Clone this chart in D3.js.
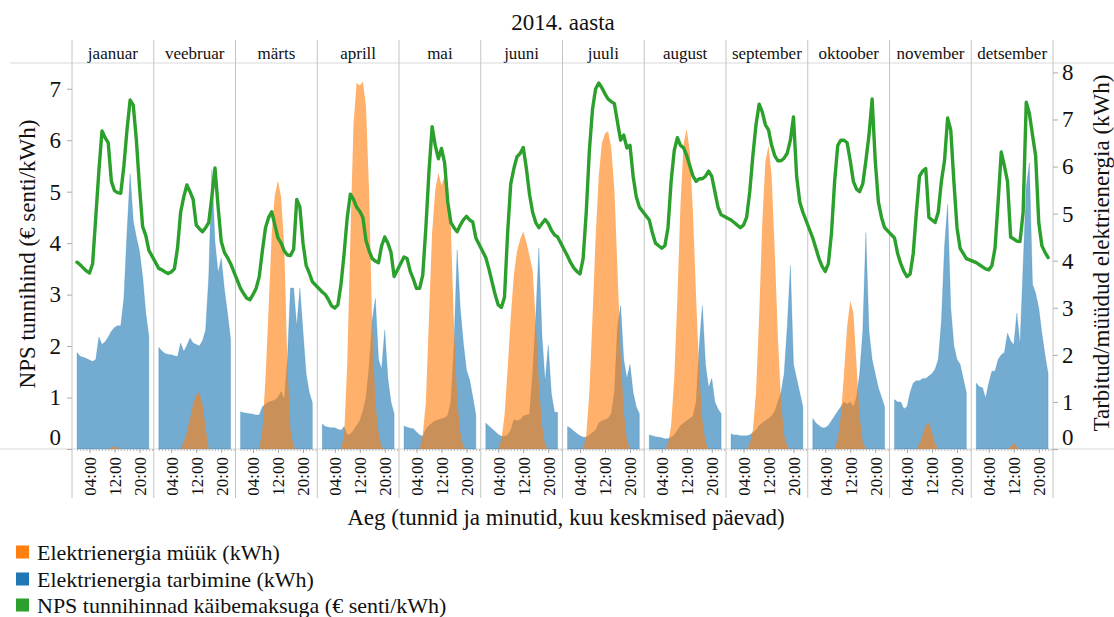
<!DOCTYPE html>
<html>
<head>
<meta charset="utf-8">
<script src="https://cdn.jsdelivr.net/npm/d3@7"></script>
<style>
  body { margin: 0; background: #fff; }
  svg { display: block; font-family: "Liberation Serif", "Times New Roman", serif; }
</style>
</head>
<body>
<svg id="chart" width="1114" height="617"></svg>
<script>
// kuud ja tunnid
var months = ["jaanuar", "veebruar", "märts", "aprill", "mai", "juuni",
              "juuli", "august", "september", "oktoober", "november", "detsember"];
var hourTicks = [4, 12, 20];
var priceTicks = [0, 1, 2, 3, 4, 5, 6, 7];
var kwhTicks = [0, 1, 2, 3, 4, 5, 6, 7, 8];

// NPS tunnihind (senti/kWh), 24 tundi kuu kohta
var price = [
  [3.63,3.58,3.52,3.46,3.42,3.6,4.5,5.4,6.18,6.05,5.95,5.2,5.02,4.98,4.97,5.5,6.2,6.78,6.68,6.0,5.1,4.32,4.15,3.86],
  [3.51,3.48,3.44,3.41,3.44,3.5,3.9,4.6,4.9,5.13,5.0,4.85,4.35,4.28,4.22,4.3,4.4,4.9,5.46,4.7,4.03,3.82,3.72,3.6],
  [3.12,3.02,2.93,2.9,3.0,3.12,3.35,3.85,4.3,4.5,4.61,4.35,4.1,4.0,3.85,3.77,3.76,3.88,4.85,4.7,4.0,3.57,3.42,3.25],
  [3.05,3.0,2.9,2.78,2.74,2.8,3.2,3.8,4.5,4.95,4.85,4.7,4.62,4.5,4.05,3.85,3.7,3.65,3.62,3.95,4.12,4.0,3.82,3.35],
  [3.73,3.7,3.45,3.3,3.12,3.12,3.38,4.3,5.4,6.26,5.9,5.64,5.84,5.56,4.8,4.4,4.3,4.22,4.35,4.45,4.52,4.45,4.41,4.1],
  [3.72,3.5,3.25,3.0,2.8,2.75,2.95,4.2,5.15,5.45,5.68,5.74,5.86,5.45,4.95,4.6,4.4,4.3,4.38,4.46,4.38,4.25,4.16,4.12],
  [3.75,3.62,3.52,3.45,3.4,3.7,4.6,5.8,6.6,7.0,7.11,7.02,6.9,6.8,6.75,6.71,6.35,6.0,6.1,5.85,5.9,5.3,4.9,4.7],
  [4.45,4.2,4.0,3.95,3.9,3.95,4.3,5.2,5.8,6.05,5.9,5.85,5.7,5.5,5.3,5.2,5.25,5.25,5.3,5.4,5.3,5.0,4.7,4.55],
  [4.45,4.4,4.35,4.3,4.35,4.5,5.0,5.7,6.3,6.7,6.55,6.3,6.2,5.9,5.7,5.6,5.6,5.65,5.75,6.0,6.45,5.3,4.8,4.6],
  [4.1,3.9,3.7,3.55,3.45,3.6,4.2,5.2,5.9,6.0,6.0,5.95,5.6,5.2,5.05,5.0,5.15,5.6,6.1,6.8,5.6,4.8,4.5,4.3],
  [4.1,3.8,3.6,3.45,3.35,3.4,3.8,4.6,5.3,5.4,5.45,4.5,4.45,4.4,4.6,5.2,5.6,6.43,6.2,5.2,4.3,3.9,3.8,3.7],
  [3.62,3.58,3.54,3.5,3.48,3.56,3.9,4.8,5.77,5.5,5.2,4.12,4.08,4.04,4.03,4.6,6.74,6.52,6.1,5.7,4.4,3.95,3.82,3.72]
];

// elektrienergia tarbimine (kWh)
var consumption = [
  [2.05,1.97,1.95,1.92,1.89,1.86,1.9,2.38,2.22,2.28,2.38,2.5,2.58,2.62,2.62,3.2,4.6,5.85,4.85,4.5,4.2,3.67,2.9,2.39],
  [2.16,2.08,2.03,2.01,2.0,1.98,1.96,2.25,2.07,2.2,2.36,2.25,2.22,2.19,2.3,2.53,3.67,5.94,4.4,3.74,4.06,3.4,2.89,2.32],
  [0.79,0.77,0.76,0.75,0.74,0.72,0.72,0.9,0.95,1.0,1.02,1.04,1.1,1.22,1.05,1.9,3.42,3.42,2.6,3.42,2.5,1.6,1.2,0.98],
  [0.53,0.48,0.46,0.45,0.45,0.42,0.4,0.48,0.3,0.32,0.4,0.5,0.6,0.8,1.1,1.75,2.74,3.2,1.9,1.7,2.53,1.5,1.0,0.75],
  [0.49,0.46,0.44,0.43,0.36,0.3,0.27,0.42,0.5,0.55,0.6,0.62,0.64,0.66,0.72,1.0,2.2,4.23,3.0,2.25,1.68,1.47,1.11,0.72],
  [0.55,0.49,0.43,0.37,0.31,0.27,0.27,0.3,0.4,0.62,0.6,0.62,0.7,0.72,0.74,1.6,2.8,4.27,2.4,1.43,2.21,1.18,0.78,0.78],
  [0.48,0.44,0.38,0.33,0.28,0.25,0.25,0.3,0.35,0.4,0.55,0.6,0.62,0.65,0.75,1.2,2.6,3.05,1.9,1.5,1.8,1.2,0.9,0.75],
  [0.3,0.28,0.26,0.25,0.24,0.22,0.22,0.25,0.3,0.4,0.5,0.55,0.6,0.65,0.7,1.0,2.2,3.05,1.8,1.3,1.5,1.0,0.85,0.75],
  [0.32,0.3,0.3,0.28,0.28,0.28,0.3,0.35,0.4,0.5,0.55,0.6,0.65,0.7,0.8,1.0,1.2,1.6,2.6,3.9,1.8,1.5,1.2,0.9],
  [0.65,0.55,0.5,0.45,0.45,0.5,0.6,0.7,0.8,0.9,1.0,0.95,1.0,0.9,1.1,1.6,2.5,4.6,2.5,1.9,1.6,1.3,1.1,0.9],
  [1.05,1.0,1.0,0.85,0.9,1.2,1.4,1.45,1.45,1.5,1.5,1.55,1.6,1.7,1.9,2.7,4.3,5.2,3.0,2.2,1.9,1.8,1.5,1.2],
  [1.4,1.32,1.3,1.08,1.4,1.65,1.65,1.9,2.0,2.05,2.46,2.3,2.21,2.89,2.21,3.9,5.58,6.08,3.5,3.31,3.0,2.46,2.0,1.6]
];

// elektrienergia müük (kWh)
var sale = [
  [0,0,0,0,0,0,0,0,0,0,0,0.02,0.06,0.02,0,0,0,0,0,0,0,0,0,0],
  [0,0,0,0,0,0,0,0,0.15,0.35,0.65,0.95,1.15,1.2,0.95,0.45,0,0,0,0,0,0,0,0],
  [0,0,0,0,0,0,0,0.4,1.5,3.0,4.6,5.4,5.7,5.35,4.3,1.8,0.4,0.05,0,0,0,0,0,0],
  [0,0,0,0,0,0,0,0.3,1.8,4.5,6.9,7.78,7.72,7.8,7.28,5.44,2.6,1.0,0.35,0.03,0,0,0,0],
  [0,0,0,0,0,0,0.3,1.0,2.8,4.6,5.5,5.87,5.6,5.8,5.2,4.7,2.6,1.1,0.35,0.05,0,0,0,0],
  [0,0,0,0,0,0.2,0.7,1.7,2.8,3.7,4.2,4.45,4.62,4.4,4.1,3.8,2.7,1.4,0.5,0.08,0,0,0,0],
  [0,0,0,0,0,0,0.3,1.2,2.8,4.5,5.8,6.5,6.7,6.75,6.4,5.5,3.8,2.0,0.8,0.2,0,0,0,0],
  [0,0,0,0,0,0,0.1,0.5,1.5,3.2,5.2,6.5,6.8,6.3,5.0,3.2,1.6,0.6,0.15,0,0,0,0,0],
  [0,0,0,0,0,0,0.1,0.4,1.2,2.8,4.8,6.1,6.45,5.8,4.2,2.4,1.0,0.3,0.05,0,0,0,0,0],
  [0,0,0,0,0,0,0,0,0.2,0.7,1.6,2.6,3.15,2.9,1.8,0.7,0.15,0,0,0,0,0,0,0],
  [0,0,0,0,0,0,0,0,0.1,0.3,0.5,0.55,0.35,0.1,0,0,0,0,0,0,0,0,0,0],
  [0,0,0,0,0,0,0,0,0,0,0,0.05,0.13,0.05,0,0,0,0,0,0,0,0,0,0]
];

var legendItems = ["Elektrienergia müük (kWh)", "Elektrienergia tarbimine (kWh)",
                   "NPS tunnihinnad käibemaksuga (€ senti/kWh)"];
var legendColors = ["#ff7f0e", "#1f77b4", "#2ca02c"];

var svg = d3.select("#chart");
var plotTop = 63, plotBottom = 449;

var x = d3.scaleBand().domain(months).range([72, 1053]);
var xh = d3.scaleLinear().domain([0, 24]).range([5, 80]);
var yPrice = d3.scaleLinear().domain([0, 7.5]).range([plotBottom, plotTop]);
var yKwh = d3.scaleLinear().domain([0, 8.2]).range([plotBottom, plotTop]);

// raamjooned
svg.append("line").attr("x1", 10).attr("x2", 1114).attr("y1", plotTop).attr("y2", plotTop)
  .attr("stroke", "#d9d9d9");
svg.append("line").attr("x1", 0).attr("x2", 1114).attr("y1", plotBottom).attr("y2", plotBottom)
  .attr("stroke", "#d9d9d9");

var edges = months.map(function(m){ return x(m); }).concat([x.range()[1]]);
svg.selectAll(".sep").data(edges).enter().append("line")
  .attr("class", "sep")
  .attr("x1", function(d){ return d; }).attr("x2", function(d){ return d; })
  .attr("y1", 40).attr("y2", 498)
  .attr("stroke", "#c4c4c4");

// kuu paneelid
var area = d3.area()
  .x(function(d, i){ return xh(i); })
  .y0(yKwh(0))
  .y1(function(d){ return yKwh(d); });

var panels = svg.selectAll(".panel").data(months).enter().append("g")
  .attr("class", "panel")
  .attr("transform", function(m){ return "translate(" + x(m) + ",0)"; });

panels.append("path")
  .attr("d", function(m, i){ return area(consumption[i]); })
  .attr("fill", "#1f77b4").attr("fill-opacity", 0.62)
  .attr("stroke", "#1f77b4").attr("stroke-opacity", 0.35).attr("stroke-width", 0.6);

panels.append("path")
  .attr("d", function(m, i){ return area(sale[i]); })
  .attr("fill", "#ff7f0e").attr("fill-opacity", 0.62);

panels.append("text")
  .attr("x", x.bandwidth() / 2).attr("y", 53).attr("dy", "0.35em")
  .attr("text-anchor", "middle").attr("font-size", 17).attr("fill", "#111")
  .text(function(m){ return m; });

// hinna joon läbi kõigi kuude
var pts = [];
months.forEach(function(m, mi){
  price[mi].forEach(function(v, h){ pts.push([x(m) + xh(h), yPrice(v)]); });
});
svg.append("path")
  .attr("d", d3.line()(pts))
  .attr("fill", "none").attr("stroke", "#2ca02c").attr("stroke-width", 3.4)
  .attr("stroke-linejoin", "round").attr("stroke-linecap", "round");

// x teljed
panels.each(function(m){
  var g = d3.select(this).append("g").attr("transform", "translate(0," + plotBottom + ")");
  g.append("g")
    .call(d3.axisBottom(xh).tickValues(d3.range(0, 25)).tickSize(2).tickFormat(""))
    .call(function(a){ a.select(".domain").remove(); a.selectAll("line").attr("stroke", "#bbb"); });
  var ax = g.append("g")
    .call(d3.axisBottom(xh).tickValues(hourTicks).tickSize(4)
      .tickFormat(function(d){ return d3.format("02")(d) + ":00"; }));
  ax.select(".domain").remove();
  ax.selectAll("line").attr("stroke", "#aaa");
  ax.selectAll("text")
    .attr("transform", "rotate(-90)")
    .attr("x", -8).attr("y", 0).attr("dy", "0.35em")
    .attr("text-anchor", "end")
    .attr("font-size", 17).attr("font-family", "Liberation Serif, serif").attr("fill", "#111");
});

// y teljed
function styleAxis(g){
  g.select(".domain").remove();
  g.selectAll("line").attr("stroke", "#aaa");
  g.selectAll("text").attr("font-size", 23).attr("font-family", "Liberation Serif, serif")
    .attr("fill", "#111");
  g.selectAll(".tick").filter(function(d){ return d === 0; }).select("text").attr("dy", "-0.2em");
}
svg.append("g").attr("transform", "translate(72,0)")
  .call(d3.axisLeft(yPrice).tickValues(priceTicks).tickSize(5).tickPadding(6))
  .call(styleAxis);
svg.append("g").attr("transform", "translate(1053,0)")
  .call(d3.axisRight(yKwh).tickValues(kwhTicks).tickSize(5).tickPadding(4))
  .call(styleAxis);

// pealkirjad
svg.append("text").attr("x", 563).attr("y", 22).attr("dy", "0.35em")
  .attr("text-anchor", "middle").attr("font-size", 23).attr("fill", "#111")
  .text("2014. aasta");
svg.append("text").attr("transform", "translate(27,254) rotate(-90)").attr("dy", "0.35em")
  .attr("text-anchor", "middle").attr("font-size", 23).attr("fill", "#111")
  .text("NPS tunnihind (€ senti/kWh)");
svg.append("text").attr("transform", "translate(1101,253) rotate(-90)").attr("dy", "0.35em")
  .attr("text-anchor", "middle").attr("font-size", 23).attr("fill", "#111")
  .text("Tarbitud/müüdud elektrienergia (kWh)");
svg.append("text").attr("x", 566).attr("y", 517).attr("dy", "0.35em")
  .attr("text-anchor", "middle").attr("font-size", 23).attr("fill", "#111")
  .text("Aeg (tunnid ja minutid, kuu keskmised päevad)");

// legend
var lg = svg.selectAll(".lg").data(legendItems).enter().append("g")
  .attr("class", "lg")
  .attr("transform", function(d, i){ return "translate(16," + [552, 579, 605][i] + ")"; });
lg.append("rect").attr("x", 0).attr("y", -6.5).attr("width", 13).attr("height", 13)
  .attr("fill", function(d, i){ return legendColors[i]; });
lg.append("text").attr("x", 21).attr("dy", "0.35em").attr("font-size", 22).attr("fill", "#111")
  .text(function(d){ return d; });
</script>
</body>
</html>
